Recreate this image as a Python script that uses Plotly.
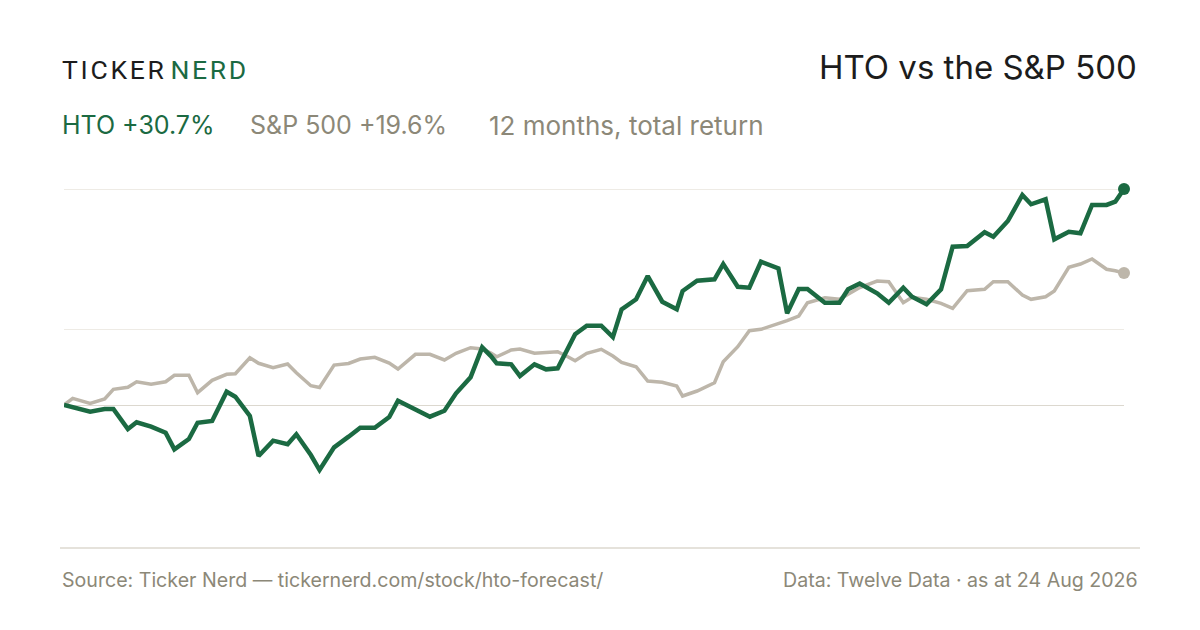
import plotly.graph_objects as go

# Day offsets from the start of the 12-month window
days = [0, 3, 9, 14, 17, 22, 25, 30, 35, 38, 43, 46, 51, 56, 59, 64, 67, 72, 77, 80, 85, 88,
        93, 98, 102, 107, 112, 115, 121, 126, 131, 135, 140, 144, 147, 149, 154, 157, 162, 166,
        170, 173, 176, 180, 185, 189, 192, 197, 201, 206, 211, 213, 218, 224, 227, 232, 236,
        240, 246, 249, 253, 256, 262, 267, 270, 274, 280, 284, 289, 292, 297, 302, 306, 311,
        317, 320, 325, 330, 333, 338, 341, 346, 350, 354, 359, 362, 365]

# Cumulative total return, %
hto_pct = [0.0, -0.36, -0.95, -0.57, -0.57, -3.41, -2.46, -3.08, -3.94, -6.30, -4.83, -2.52,
           -2.27, 1.89, 1.18, -1.56, -7.25, -5.07, -5.58, -4.16, -7.11, -9.24,
           -6.01, -4.50, -3.23, -3.23, -1.71, 0.61, -0.57, -1.66, -0.81, 1.66, 3.94, 8.20,
           6.96, 5.93, 5.78, 4.12, 5.78, 5.07, 5.22, 7.57, 10.05, 11.27, 11.27,
           9.66, 13.60, 15.02, 18.33, 14.68, 13.60, 16.20, 17.67, 17.87, 20.04, 16.81, 16.67,
           20.37, 19.43, 13.03, 16.49, 16.49, 14.54, 14.54, 16.44, 17.27,
           15.88, 14.54, 16.67, 15.39, 14.31, 16.44, 22.50, 22.60, 24.55, 23.92, 26.15, 29.85,
           28.53, 29.24, 23.55, 24.63, 24.40, 28.43, 28.43, 28.89, 30.70]

spx_pct = [0.0, 0.95, 0.24, 0.85, 2.23, 2.52, 3.31, 2.94, 3.31, 4.22, 4.22, 1.75,
           3.51, 4.36, 4.45, 6.72, 5.93, 5.30, 5.83, 4.59, 2.74, 2.49,
           5.68, 5.90, 6.54, 6.78, 5.97, 5.12, 7.21, 7.21, 6.40, 7.35, 8.14, 7.96,
           7.39, 6.86, 7.82, 7.96, 7.35, 7.49, 7.58, 6.96, 6.30, 7.35, 7.92,
           6.96, 6.07, 5.44, 3.41, 3.23, 2.70, 1.28, 1.99, 3.17, 6.15, 8.29, 10.56,
           10.76, 11.51, 11.98, 12.65, 14.54, 15.25, 15.02, 15.73, 16.70,
           17.62, 17.52, 14.54, 15.31, 15.02, 14.45, 13.74, 16.25, 16.44, 17.52, 17.52, 15.63,
           15.02, 15.39, 16.20, 19.57, 20.04, 20.75, 19.29, 19.09, 18.76]

grid_vals = [10.8, 30.7]

brand = "TICKER"
brand2 = "NERD"
title = "HTO vs the S&P 500"
hto_label = "HTO +30.7%"
spx_label = "S&P 500 +19.6%"
period_label = "12 months, total return"
source_text = "Source: Ticker Nerd — tickernerd.com/stock/hto-forecast/"
data_text = "Data: Twelve Data · as at 24 Aug 2026"

GREEN = "#1b6a42"
SPX = "#bdb6aa"
GREYTXT = "#8c8878"
DARK = "#1c1c1c"
FONT = "Inter, 'Liberation Sans', Arial, sans-serif"
LOGOFONT = "Roboto, 'Liberation Sans', Arial, sans-serif"

fig = go.Figure()
fig.add_trace(go.Scatter(x=days, y=spx_pct, mode="lines",
                         line=dict(color=SPX, width=3.5), hoverinfo="skip"))
fig.add_trace(go.Scatter(x=days, y=hto_pct, mode="lines",
                         line=dict(color=GREEN, width=4.5), hoverinfo="skip"))
fig.add_trace(go.Scatter(x=[days[-1]], y=[spx_pct[-1]], mode="markers",
                         marker=dict(color=SPX, size=12), cliponaxis=False, hoverinfo="skip"))
fig.add_trace(go.Scatter(x=[days[-1]], y=[hto_pct[-1]], mode="markers",
                         marker=dict(color=GREEN, size=12), cliponaxis=False, hoverinfo="skip"))

# page body has an 8px margin; work in window coordinates and subtract it
OFF = 8
FW, FH = 1200 - OFF, 630 - OFF
L, R, T, B = 64, 1124, 170, 548
W = R - L
H = B - T

def px(x):
    return (x - L) / W

def py(y):
    return (B - y) / H

hs = "\u200a"
logo = (f"<span style='color:{DARK}'>{hs.join(brand)}</span> "
        f"<span style='color:{GREEN}'>{hs.join(brand2)}</span>")

ann = [
    dict(x=px(60), y=py(70), text=logo, font=dict(size=26.5, family=LOGOFONT),
         xanchor="left", yanchor="middle"),
    dict(x=px(1139), y=py(67), text=title, font=dict(size=33, color=DARK, family=FONT),
         xanchor="right", yanchor="middle"),
    dict(x=px(60), y=py(125), text=hto_label, font=dict(size=25, color=GREEN, family=FONT),
         xanchor="left", yanchor="middle"),
    dict(x=px(248), y=py(125), text=spx_label, font=dict(size=25, color=GREYTXT, family=FONT),
         xanchor="left", yanchor="middle"),
    dict(x=px(487), y=py(125), text=period_label, font=dict(size=26, color=GREYTXT, family=FONT),
         xanchor="left", yanchor="middle"),
    dict(x=px(60), y=py(580), text=source_text, font=dict(size=19.6, color=GREYTXT, family=FONT),
         xanchor="left", yanchor="middle"),
    dict(x=px(1140), y=py(580), text=data_text, font=dict(size=19.6, color=GREYTXT, family=FONT),
         xanchor="right", yanchor="middle"),
]
for a in ann:
    a.update(xref="paper", yref="paper", showarrow=False)

fig.update_layout(
    width=FW, height=FH,
    margin=dict(l=L - OFF, r=1200 - R, t=T - OFF, b=630 - B, pad=0),
    paper_bgcolor="white", plot_bgcolor="white",
    showlegend=False,
    xaxis=dict(range=[days[0], days[-1]], showgrid=False, zeroline=False,
               showticklabels=False, ticks="", showline=False),
    yaxis=dict(range=[-20.32, 33.40], tickvals=grid_vals, showticklabels=False,
               showgrid=True, gridcolor="#eeebe5", gridwidth=1,
               zeroline=True, zerolinecolor="#dcd8cf", zerolinewidth=1, ticks="", showline=False),
    annotations=ann,
    shapes=[dict(type="line", xref="paper", yref="paper", x0=px(60), x1=px(1140), y0=0, y1=0,
                 line=dict(color="#dcd8cf", width=1.5))],
)

fig.write_html("out.html")
